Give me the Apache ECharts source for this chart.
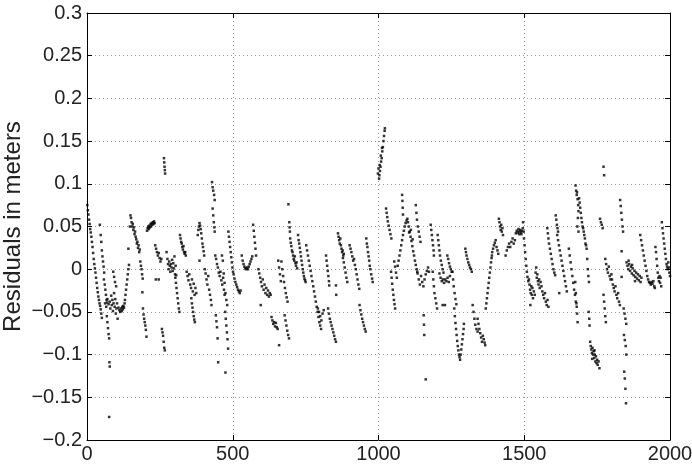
<!DOCTYPE html>
<html>
<head>
<meta charset="utf-8">
<script src="https://cdn.jsdelivr.net/npm/echarts@6/dist/echarts.min.js"></script>
<style>
html,body{margin:0;padding:0;background:#fff;}
#resChart{width:692px;height:474px;}
</style>
</head>
<body>
<div id="resChart"></div>
<script>
// residuals, [sample index, residual in m]
var res0to340 = [
[1,0.075],[3,0.069],[5,0.064],[7,0.058],[9,0.053],[11,0.047],[13,0.043],[15,0.038],[17,0.032],[19,0.026],[21,0.019],[23,0.012],[25,0.006],[27,0.001],[29,-0.004],[31,-0.01],[33,-0.016],[35,-0.022],[37,-0.027],[39,-0.032],[41,-0.036],[43,-0.04],[45,-0.043],[47,-0.047],[49,-0.052],[51,-0.057],
[44,0.052],[47,0.04],[49,0.032],[51,0.022],[53,0.015],[55,0.009],[57,0.003],[59,-0.004],
[58,-0.012],[61,-0.018],[63,-0.024],[65,-0.03],[67,-0.036],[69,-0.039],
[68,-0.055],[70,-0.062],[72,-0.069],[74,-0.076],[76,-0.081],[77,-0.109],[78,-0.114],[76,-0.173],
[62,-0.04],[66,-0.044],[70,-0.035],[74,-0.041],[78,-0.038],[80,-0.046],[83,-0.031],[85,-0.042],[87,-0.036],[89,-0.049],[91,-0.04],[93,-0.028],[95,-0.044],[97,-0.035],[99,-0.052],[101,-0.046],[103,-0.04],[105,-0.058],
[90,-0.003],[93,-0.009],[96,-0.015],[100,-0.02],
[108,-0.045],[111,-0.048],[114,-0.05],[117,-0.046],[119,-0.049],[121,-0.044],[123,-0.047],[125,-0.043],[127,-0.045],[129,-0.04],
[130,-0.036],[132,-0.03],[134,-0.024],[136,-0.018],[138,-0.012],[140,-0.006],[142,0.0],[144,0.005],[142,0.024],
[147,0.05],[149,0.063],[151,0.06],[153,0.055],[155,0.05],[157,0.053],[159,0.046],[161,0.049],[163,0.041],
[165,0.044],[167,0.038],[169,0.035],[171,0.03],[173,0.032],[175,0.025],[177,0.028],[179,0.02],[181,0.023],
[183,0.009],[185,0.004],[187,0.0],[189,-0.006],[191,-0.011],[190,-0.027],
[192,-0.046],[194,-0.053],[196,-0.058],[198,-0.062],[200,-0.066],[202,-0.071],[204,-0.079],
[206,0.045],[208,0.048],[210,0.05],[212,0.047],[214,0.051],[216,0.049],[218,0.053],[220,0.05],[222,0.054],[224,0.052],[226,0.055],[228,0.053],[230,0.056],[232,0.054],
[234,0.028],[237,0.024],[240,0.02],[243,0.016],[246,0.019],[249,0.013],[252,0.009],[255,0.012],[236,-0.012],[246,-0.012],
[264,0.13],[265,0.125],[266,0.12],[267,0.116],[268,0.112],
[257,-0.07],[259,-0.074],[261,-0.078],[263,-0.085],[265,-0.092],[267,-0.095],
[273,0.02],[276,0.012],[278,0.006],[280,0.0],[282,0.009],[284,0.004],[286,-0.003],[288,0.006],[290,0.002],[292,0.011],[294,-0.002],[296,0.007],[298,0.001],[300,0.015],[302,-0.006],[304,0.004],[306,-0.007],
[303,-0.01],[305,-0.016],[307,-0.022],[309,-0.028],[311,-0.034],[313,-0.04],[315,-0.046],[317,-0.05],
[319,0.04],[321,0.036],[323,0.032],[325,0.03],[327,0.026],[329,0.023],[331,0.027],[333,0.02],[335,0.018]
];

var res340to665 = [
[337,0.02],[339,0.016],
[342,-0.003],[345,-0.008],[348,-0.013],[351,-0.006],[354,-0.018],[357,-0.022],[360,-0.012],[363,-0.026],[366,-0.017],[369,-0.03],[372,-0.022],[375,-0.028],
[358,-0.034],[360,-0.04],[362,-0.045],[364,-0.05],[366,-0.055],[368,-0.059],[370,-0.062],
[380,0.04],[382,0.046],[384,0.05],[386,0.054],[388,0.051],[390,0.047],[392,0.042],[394,0.036],[396,0.03],[398,0.026],[400,0.021],[402,0.016],[386,0.01],
[404,0.0],[407,-0.005],[410,-0.012],[413,-0.018],[416,-0.008],[419,-0.024],[422,-0.03],[425,-0.036],[427,-0.042],
[429,0.102],[431,0.096],[433,0.092],[436,0.087],[438,0.081],
[431,0.071],[433,0.063],[435,0.055],[437,0.049],[438,0.044],
[440,0.016],[443,0.012],[446,0.006],[449,0.002],[452,-0.004],[455,-0.008],[458,-0.003],[461,-0.013],[464,-0.018],[467,-0.01],[470,-0.024],[472,-0.03],
[442,-0.054],[444,-0.061],[446,-0.068],[448,-0.081],[450,-0.109],[475,-0.121],
[463,0.016],[466,0.01],[469,-0.005],[472,-0.016],[475,-0.028],[478,-0.036],[481,-0.042],
[474,-0.05],[476,-0.058],[478,-0.066],[480,-0.074],[482,-0.082],[484,-0.093],
[485,0.044],[487,0.038],[489,0.032],[491,0.026],[493,0.02],[495,0.014],[497,0.008],[499,0.002],[501,-0.003],
[503,-0.006],[506,-0.011],[509,-0.015],[512,-0.018],[515,-0.021],[518,-0.024],[521,-0.026],[524,-0.028],[527,-0.025],
[531,0.016],[534,0.01],[537,0.006],[540,0.003],[543,0.001],[546,0.0],[549,0.002],[552,0.0],[555,0.003],[558,0.006],[561,0.009],[564,0.012],[567,0.015],
[570,0.052],[572,0.045],[574,0.038],[576,0.031],[578,0.024],[580,0.016],
[588,0.0],[591,-0.005],[594,-0.01],[597,-0.015],[600,-0.02],[603,-0.012],[606,-0.024],[609,-0.018],[612,-0.028],[615,-0.022],[618,-0.03],[621,-0.025],[624,-0.032],[627,-0.028],[630,-0.03],[596,-0.042],
[633,-0.056],[636,-0.06],[639,-0.064],[642,-0.062],[645,-0.067],[648,-0.063],[651,-0.068],[654,-0.07],[659,-0.089],
[656,0.01],[659,0.002],[662,-0.006],[665,-0.014]
];

var res665to1000 = [
[667,0.009],[670,0.0],[673,-0.008],[676,-0.015],[679,-0.022],[682,-0.028],[685,-0.033],[688,-0.038],
[678,-0.054],[681,-0.06],[684,-0.066],[687,-0.072],[690,-0.077],[693,-0.081],
[691,0.076],[694,0.055],[695,0.049],[696,0.044],
[697,0.036],[699,0.031],[701,0.027],[703,0.022],[705,0.02],[707,0.016],[709,0.012],[711,0.01],[713,0.015],[715,0.007],[717,0.004],[719,0.008],[721,0.001],
[724,0.04],[726,0.034],[728,0.03],[730,0.025],[732,0.02],[734,0.015],[736,0.01],[738,0.005],[740,0.0],[742,-0.004],[744,-0.008],[746,-0.011],[748,-0.013],[750,-0.015],
[752,0.028],[755,0.022],[758,0.016],[761,0.01],[764,0.004],[767,-0.002],[770,-0.008],[773,-0.014],[776,-0.02],[779,-0.026],[782,-0.032],[785,-0.038],[788,-0.044],[791,-0.05],[794,-0.056],[797,-0.062],[800,-0.066],[803,-0.07],
[792,-0.046],[796,-0.05],[800,-0.055],[804,-0.06],[808,-0.052],[812,-0.048],
[820,0.016],[822,0.01],[824,0.004],[826,-0.002],[828,-0.008],[830,-0.014],[831,-0.019],
[827,-0.046],[830,-0.052],[833,-0.058],[836,-0.062],[839,-0.066],[842,-0.07],[845,-0.074],[848,-0.078],[851,-0.082],[854,-0.085],
[854,-0.019],[855,-0.03],
[861,0.042],[863,0.038],[865,0.034],[867,0.03],[869,0.036],[871,0.028],[873,0.024],[875,0.02],[877,0.022],[879,0.016],[881,0.018],
[878,0.013],[881,0.008],[884,0.002],[887,-0.004],[890,-0.01],[893,-0.015],
[901,0.028],[904,0.024],[907,0.02],[910,0.015],[913,0.01],[916,0.012],[919,0.005],[922,0.0],[925,-0.006],[928,-0.012],[931,-0.018],[934,-0.023],
[935,-0.042],[938,-0.048],[941,-0.053],[944,-0.058],[947,-0.062],[950,-0.066],[953,-0.07],[956,-0.073],
[958,0.036],[960,0.03],[962,0.026],[964,0.02],[966,0.015],[968,0.01],[970,0.004],[972,0.0],[975,-0.006],[978,-0.011],[980,-0.015],
[998,0.112],[1000,0.118],[1002,0.106]
];

var res1000to1340 = [
[1003,0.11],[1005,0.115],[1007,0.12],[1009,0.126],[1011,0.13],[1013,0.138],[1015,0.143],[1017,0.15],[1019,0.156],[1021,0.162],[1022,0.165],[1004,0.122],[1008,0.133],[1012,0.142],
[1026,0.071],[1028,0.066],[1030,0.061],[1032,0.056],[1035,0.051],[1038,0.046],[1041,0.041],[1044,0.036],
[1043,-0.003],[1045,-0.01],[1047,-0.017],[1049,-0.024],[1051,-0.03],[1053,-0.036],[1055,-0.041],[1057,-0.046],
[1054,0.009],[1057,0.003],[1060,-0.004],[1063,-0.01],
[1066,0.004],[1069,0.01],[1072,0.016],[1075,0.022],[1078,0.028],[1081,0.034],[1084,0.04],[1087,0.045],[1090,0.05],[1093,0.054],[1096,0.057],[1099,0.059],
[1081,0.087],[1082,0.08],[1083,0.072],[1084,0.064],
[1101,0.055],[1104,0.05],[1107,0.044],[1110,0.038],[1113,0.033],[1116,0.027],[1119,0.021],[1122,0.016],[1125,0.01],[1128,0.005],[1131,0.0],[1133,-0.003],[1105,0.043],[1111,0.046],[1117,0.035],
[1128,0.075],[1130,0.066],[1132,0.058],[1135,0.05],[1138,0.044],[1141,0.038],[1144,0.032],
[1134,-0.005],[1138,-0.012],[1142,-0.018],[1146,-0.008],[1150,-0.015],[1154,-0.02],[1158,-0.012],[1162,-0.006],[1166,-0.002],[1170,0.002],[1173,-0.003],
[1155,-0.054],[1156,-0.065],[1157,-0.077],[1162,-0.129],
[1179,0.052],[1181,0.046],[1183,0.04],[1185,0.034],[1187,0.028],[1189,0.022],[1190,0.016],
[1186,-0.003],[1188,-0.012],[1190,-0.02],[1192,-0.028],[1195,-0.034],[1198,-0.04],[1201,-0.046],
[1203,0.04],[1205,0.034],[1207,0.028],[1209,0.022],[1211,0.016],[1214,0.01],[1217,0.005],[1220,0.0],[1223,-0.004],
[1209,-0.005],[1213,-0.01],[1217,-0.014],[1221,-0.012],[1225,-0.016],[1229,-0.012],[1233,-0.014],[1237,-0.01],[1241,-0.015],[1245,-0.008],
[1220,-0.042],[1228,-0.042],
[1236,0.016],[1239,0.012],[1242,0.007],[1245,0.003],[1248,0.0],[1251,-0.003],
[1254,-0.003],[1256,-0.012],[1258,-0.02],[1261,-0.028],[1264,-0.035],[1267,-0.041],
[1260,-0.046],[1262,-0.055],[1264,-0.063],[1266,-0.07],[1268,-0.077],[1270,-0.084],[1272,-0.09],[1274,-0.095],[1276,-0.1],[1278,-0.103],[1280,-0.106],
[1282,-0.1],[1284,-0.094],[1286,-0.088],[1288,-0.082],[1290,-0.076],[1292,-0.07],[1293,-0.064],
[1298,0.024],[1300,0.02],[1302,0.016],[1305,0.012],[1308,0.008],[1311,0.005],[1314,0.002],[1317,0.0],[1320,-0.003],
[1323,-0.042],[1326,-0.05],[1329,-0.058],[1332,-0.065],[1336,-0.07],[1340,-0.073]
];

var res1340to1680 = [
[1340,-0.058],[1343,-0.064],[1346,-0.07],[1349,-0.075],[1352,-0.08],[1355,-0.085],[1358,-0.078],[1361,-0.082],[1364,-0.086],[1366,-0.089],
[1368,-0.046],[1370,-0.04],[1372,-0.034],[1374,-0.028],[1376,-0.022],[1378,-0.016],[1380,-0.01],[1382,-0.004],[1384,0.002],[1386,0.008],[1388,0.013],[1389,0.016],
[1390,0.02],[1393,0.024],[1396,0.028],[1399,0.031],[1402,0.034],[1405,0.026],[1408,0.022],[1411,0.018],
[1413,0.059],[1415,0.055],[1417,0.05],[1419,0.046],[1421,0.052],[1423,0.044],[1425,0.048],[1427,0.04],
[1436,0.016],[1440,0.022],[1444,0.026],[1448,0.03],[1452,0.026],[1456,0.032],[1460,0.036],[1464,0.03],[1468,0.034],
[1471,0.042],[1474,0.045],[1477,0.043],[1480,0.047],[1483,0.044],[1486,0.046],[1489,0.043],[1492,0.045],[1495,0.048],[1498,0.044],[1482,0.041],[1490,0.041],[1496,0.055],
[1499,0.036],[1501,0.028],[1503,0.02],[1505,0.012],[1507,0.004],[1509,-0.003],[1511,-0.009],[1514,-0.014],
[1516,-0.012],[1518,-0.018],[1520,-0.024],[1522,-0.028],[1524,-0.02],[1526,-0.03],[1528,-0.022],[1530,-0.034],[1533,-0.026],[1536,-0.03],[1521,-0.042],
[1539,-0.004],[1541,0.002],[1543,-0.01],[1545,-0.006],[1547,-0.014],[1549,-0.018],[1551,-0.012],[1553,-0.022],
[1556,-0.015],[1559,-0.02],[1562,-0.026],[1565,-0.03],[1568,-0.034],[1571,-0.028],[1574,-0.038],[1577,-0.042],[1580,-0.036],[1583,-0.044],
[1579,0.048],[1581,0.042],[1583,0.036],[1585,0.03],[1588,0.024],[1591,0.018],[1594,0.012],[1597,0.006],[1600,0.0],[1603,-0.004],[1606,-0.007],
[1608,0.063],[1610,0.058],[1612,0.052],[1614,0.048],[1616,0.044],
[1613,0.04],[1616,0.034],[1619,0.028],[1622,0.022],[1625,0.016],[1628,0.01],[1631,0.004],[1634,-0.002],[1637,-0.008],[1640,-0.014],[1643,-0.02],[1646,-0.026],[1620,-0.028],
[1653,0.024],[1656,0.016],[1659,0.008],[1662,0.0],[1665,-0.008],[1668,-0.016],[1671,-0.024],[1674,-0.03],[1677,-0.038],[1680,-0.044],
[1676,0.098],[1678,0.092],[1680,0.087]
];

var res1680to2000 = [
[1681,0.09],[1683,0.082],[1685,0.075],[1686,0.068],[1684,0.06],[1682,0.05],[1686,0.044],
[1688,0.083],[1690,0.078],[1692,0.072],[1694,0.066],[1696,0.06],[1698,0.055],[1700,0.05],[1702,0.048],[1704,0.044],[1706,0.04],[1708,0.036],[1710,0.03],[1712,0.028],[1714,0.024],
[1716,0.012],[1718,0.0],[1720,-0.008],[1722,-0.015],
[1675,-0.015],[1677,-0.028],[1679,-0.04],[1681,-0.052],[1683,-0.062],
[1721,-0.05],[1723,-0.058],[1724,-0.066],
[1726,-0.085],[1728,-0.09],[1730,-0.094],[1732,-0.098],[1734,-0.092],[1736,-0.1],[1738,-0.096],[1740,-0.104],[1742,-0.1],[1744,-0.108],[1746,-0.102],[1748,-0.11],[1750,-0.106],[1752,-0.112],[1755,-0.108],[1758,-0.116],[1733,-0.105],[1741,-0.095],
[1760,0.059],[1763,0.055],[1766,0.052],[1769,0.048],
[1772,0.12],[1774,0.11],
[1772,-0.03],[1774,-0.038],[1776,-0.046],[1778,-0.055],[1780,-0.062],
[1778,0.012],[1781,0.006],[1784,0.0],[1787,-0.004],[1790,0.003],[1793,-0.008],[1796,-0.012],[1799,-0.006],
[1801,-0.012],[1804,-0.018],[1807,-0.022],[1810,-0.026],[1813,-0.02],[1816,-0.03],[1819,-0.034],[1822,-0.028],[1825,-0.038],[1828,-0.042],
[1829,0.081],[1831,0.074],[1833,0.066],[1835,0.058],[1837,0.05],[1839,0.044],[1834,0.021],[1834,-0.009],
[1841,-0.046],[1844,-0.052],[1847,-0.058],[1850,-0.064],
[1842,-0.077],[1845,-0.083],[1848,-0.09],[1850,-0.1],
[1843,-0.12],[1845,-0.128],[1847,-0.14],[1849,-0.157],
[1851,0.008],[1854,0.004],[1857,0.0],[1860,0.006],[1863,-0.002],[1866,0.003],[1869,-0.005],[1872,0.001],[1875,-0.007],[1878,-0.002],[1881,-0.009],[1884,-0.004],[1887,-0.011],[1890,-0.006],[1893,-0.013],[1896,-0.008],[1899,-0.015],[1902,-0.01],[1858,0.01],[1870,0.005],[1880,-0.014],
[1898,0.04],[1901,0.034],[1904,0.028],[1907,0.022],[1910,0.016],[1913,0.01],[1916,0.004],[1919,-0.002],[1922,-0.008],[1925,-0.012],[1928,-0.015],[1931,-0.016],[1934,-0.018],[1937,-0.015],[1940,-0.017],[1943,-0.014],[1946,-0.02],[1948,-0.022],
[1950,0.026],[1952,0.02],[1954,0.012],[1956,0.004],[1958,-0.004],[1960,-0.01],[1962,-0.014],[1964,-0.008],[1966,-0.016],[1968,-0.01],[1970,-0.02],
[1972,0.055],[1974,0.048],[1976,0.042],[1978,0.036],[1980,0.03],[1982,0.024],[1984,0.018],[1986,0.012],[1988,0.006],[1990,0.003],[1992,0.0],
[1994,0.008],[1996,0.002],[1998,-0.004],[2000,-0.008]
];

var xTicks = [0, 500, 1000, 1500, 2000];
var yMin = -0.2, yMax = 0.3, yStep = 0.05;

var allRes = [].concat(res0to340, res340to665, res665to1000, res1000to1340, res1340to1680, res1680to2000);

function fmtY(v){
	var s = String(Math.round(v*100)/100);
	return s.replace('-', '\u2212');
}

var resChart = echarts.init(document.getElementById("resChart"));
var gridLine = {show:true, lineStyle:{color:'#9a9a9a', type:[1,3], width:1}};
var font = {fontFamily:'Liberation Sans, Arial, sans-serif', fontSize:20, color:'#222'};
var option = {
	animation:false,
	backgroundColor:'#fff',
	grid:{left:87, right:22, top:13, bottom:34, outerBoundsMode:'none', containLabel:false},
	xAxis:[
		{
			type:'value', min:xTicks[0], max:xTicks[xTicks.length-1], interval:500,
			axisLine:{show:true, onZero:false, lineStyle:{color:'#000', width:1}},
			axisTick:{show:true, inside:true, length:5, lineStyle:{color:'#000'}},
			axisLabel:Object.assign({margin:4, formatter:function(v){return String(v);}}, font),
			splitLine:gridLine
		},
		{
			type:'value', position:'top', min:0, max:2000, interval:500,
			axisLine:{show:true, onZero:false, lineStyle:{color:'#000', width:1}},
			axisTick:{show:true, inside:true, length:5, lineStyle:{color:'#000'}},
			axisLabel:{show:false}, splitLine:{show:false}
		}
	],
	yAxis:[
		{
			type:'value', min:yMin, max:yMax, interval:yStep,
			name:'Residuals in meters', nameLocation:'middle', nameGap:62, nameMoveOverlap:false,
			nameTextStyle:{fontFamily:'Liberation Sans, Arial, sans-serif', fontSize:24, color:'#222'},
			axisLine:{show:true, onZero:false, lineStyle:{color:'#000', width:1}},
			axisTick:{show:true, inside:true, length:5, lineStyle:{color:'#000'}},
			axisLabel:Object.assign({margin:5, formatter:fmtY}, font),
			splitLine:gridLine
		},
		{
			type:'value', position:'right', min:yMin, max:yMax, interval:yStep,
			axisLine:{show:true, onZero:false, lineStyle:{color:'#000', width:1}},
			axisTick:{show:true, inside:true, length:5, lineStyle:{color:'#000'}},
			axisLabel:{show:false}, splitLine:{show:false}
		}
	],
	series:[
		{
			type:'scatter',
			data:allRes,
			symbol:'rect',
			symbolSize:2.5,
			itemStyle:{color:'#000'},
			silent:true
		}
	]
};
resChart.setOption(option);
</script>
</body>
</html>
